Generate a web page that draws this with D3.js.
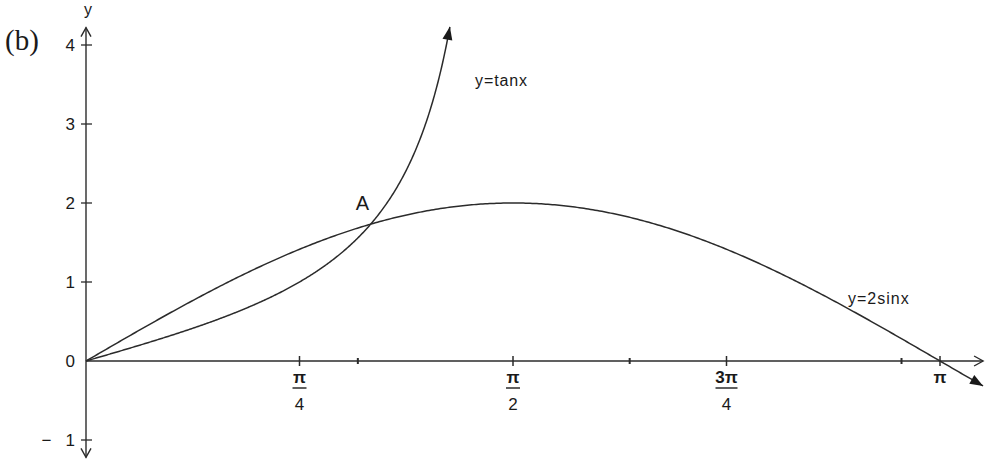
<!DOCTYPE html>
<html>
<head>
<meta charset="utf-8">
<script src="https://cdn.jsdelivr.net/npm/d3@7"></script>
<style>
  html, body { margin: 0; padding: 0; background: #fff; }
  svg { display: block; }
  text { font-family: "Liberation Sans", Arial, sans-serif; fill: #1a1a1a; }
</style>
</head>
<body>
<svg id="chart" width="990" height="459"></svg>
<script>
// Graphs of y = tan x and y = 2 sin x on [0, π], meeting at A (π/3, √3)
const yTicks = [-1, 0, 1, 2, 3, 4];
const yTickLabels = ["−   1", "0", "1", "2", "3", "4"];
const xFracTicks = [Math.PI / 4, Math.PI / 2, 3 * Math.PI / 4];
const xFracNumerators = ["π", "π", "3π"];
const xFracDenominators = ["4", "2", "4"];
const xRadianTicks = [1, 2, 3];
const tanRange = [0, 4.23];      // y-values spanned by the tan x branch
const sinRange = [0, 3.30];      // x-values spanned by 2 sin x
const pointA = { x: Math.PI / 3, y: Math.sqrt(3), label: "A" };

const svg = d3.select("#chart");
const ink = "#2b2b2b";

const x = d3.scaleLinear().domain([0, Math.PI]).range([86, 940]);
const y = d3.scaleLinear().domain([0, 4]).range([361, 45]);

// Part label
svg.append("text").attr("x", 5).attr("y", 50)
  .style("font-family", "'Liberation Serif', 'Times New Roman', serif")
  .style("font-size", "29px").text("(b)");

// Axes lines
svg.append("line").attr("x1", x(0)).attr("x2", x(0))
  .attr("y1", y(-1.22)).attr("y2", y(4.22))
  .attr("stroke", ink).attr("stroke-width", 1.4);
svg.append("line").attr("x1", x(0)).attr("x2", x(3.3))
  .attr("y1", y(0)).attr("y2", y(0))
  .attr("stroke", ink).attr("stroke-width", 1.4);

// Open chevron arrowheads on the axes
function chevron(px, py, angle) {
  const g = svg.append("g").attr("transform", `translate(${px},${py}) rotate(${angle})`);
  g.append("path").attr("d", "M-9,-5 L0,0 L-9,5")
    .attr("fill", "none").attr("stroke", ink).attr("stroke-width", 1.4);
}
chevron(x(3.3), y(0), 0);
chevron(x(0), y(4.22), -90);
chevron(x(0), y(-1.22), 90);

// Axis name
svg.append("text").attr("x", x(0) + 2).attr("y", 15)
  .attr("text-anchor", "middle").style("font-size", "16px").text("y");

// y ticks
svg.append("g").selectAll("line").data(yTicks.filter(d => d !== 0)).join("line")
  .attr("x1", x(0) - 5).attr("x2", x(0) + 6)
  .attr("y1", d => y(d)).attr("y2", d => y(d))
  .attr("stroke", ink).attr("stroke-width", 1.3);
svg.append("g").selectAll("text").data(yTicks).join("text")
  .attr("x", 75)
  .attr("y", d => y(d) + 6)
  .attr("text-anchor", "end").style("font-size", "17px")
  .style("white-space", "pre").attr("xml:space", "preserve")
  .text((d, i) => yTickLabels[i]);

// x ticks: fractions of π and whole radians
svg.append("g").selectAll("line").data(xFracTicks.concat([Math.PI])).join("line")
  .attr("x1", d => x(d)).attr("x2", d => x(d))
  .attr("y1", y(0) - 5).attr("y2", y(0) + 5)
  .attr("stroke", ink).attr("stroke-width", 1.5);
svg.append("g").selectAll("line").data(xRadianTicks).join("line")
  .attr("x1", d => x(d)).attr("x2", d => x(d))
  .attr("y1", y(0) - 3).attr("y2", y(0) + 3)
  .attr("stroke", ink).attr("stroke-width", 2);

const frac = svg.append("g").selectAll("g").data(xFracTicks).join("g")
  .attr("transform", d => `translate(${x(d)},0)`);
frac.append("text").attr("y", 383).attr("text-anchor", "middle")
  .style("font-size", "17px").style("font-weight", "bold")
  .text((d, i) => xFracNumerators[i]);
frac.append("line").attr("x1", (d, i) => i === 2 ? -11 : -7).attr("x2", (d, i) => i === 2 ? 11 : 7)
  .attr("y1", 388).attr("y2", 388).attr("stroke", ink).attr("stroke-width", 1.5);
frac.append("text").attr("y", 410).attr("text-anchor", "middle")
  .style("font-size", "17px").text((d, i) => xFracDenominators[i]);
svg.append("text").attr("x", x(Math.PI)).attr("y", 383).attr("text-anchor", "middle")
  .style("font-size", "17px").style("font-weight", "bold").text("π");

// Curves
const line = d3.line().x(d => x(d[0])).y(d => y(d[1])).curve(d3.curveLinear);
const tanEnd = Math.atan(tanRange[1]);
const tanPts = d3.range(0, 401).map(i => {
  const t = tanEnd * i / 400;
  return [t, Math.tan(t)];
});
const sinPts = d3.range(0, 401).map(i => {
  const t = sinRange[0] + (sinRange[1] - sinRange[0]) * i / 400;
  return [t, 2 * Math.sin(t)];
});

svg.append("path").datum(tanPts).attr("d", line)
  .attr("fill", "none").attr("stroke", ink).attr("stroke-width", 1.5);
svg.append("path").datum(sinPts).attr("d", line)
  .attr("fill", "none").attr("stroke", ink).attr("stroke-width", 1.5);

// Filled arrowheads at curve ends, aligned with the curve direction
function arrowAt(pts) {
  const a = pts[pts.length - 1], b = pts[pts.length - 6];
  const ax = x(a[0]), ay = y(a[1]), bx = x(b[0]), by = y(b[1]);
  const ang = Math.atan2(ay - by, ax - bx) * 180 / Math.PI;
  svg.append("path").attr("d", "M0,0 L-13,-5 L-13,5 Z")
    .attr("transform", `translate(${ax},${ay}) rotate(${ang})`)
    .attr("fill", "#1a1a1a");
}
arrowAt(tanPts);
arrowAt(sinPts);

// Curve labels and the intersection point
svg.append("text").attr("x", 475).attr("y", 86).style("font-size", "16px")
  .style("letter-spacing", "0.9px").text("y=tanx");
svg.append("text").attr("x", 848).attr("y", 304).style("font-size", "16px")
  .style("letter-spacing", "1px").text("y=2sinx");
svg.append("text").attr("x", x(pointA.x) - 15).attr("y", y(pointA.y) - 14)
  .style("font-size", "20px").text(pointA.label);
</script>
</body>
</html>
